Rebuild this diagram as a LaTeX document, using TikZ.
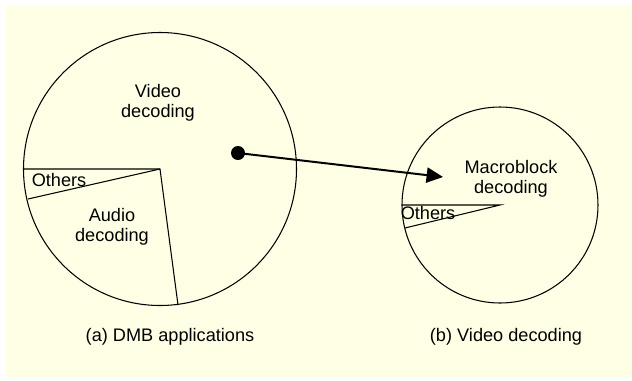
\documentclass[tikz,border=0pt]{standalone}
\usepackage{fontspec}
\setmainfont{Liberation Sans}
\usetikzlibrary{arrows.meta}
\definecolor{bgyellow}{RGB}{255,255,229}
\tikzset{
  pieline/.style={line width=0.9pt, black},
  label/.style={align=center, inner sep=0pt, font=\fontsize{15.5}{17}\selectfont},
  dotmark/.style={circle, fill=black, inner sep=0pt, minimum size=0.42cm},
  flowarrow/.style={line width=1.7pt, -{Triangle[length=14pt,width=13pt]}}
}
\begin{document}
\begin{tikzpicture}[x=0.03cm, y=-0.03cm]
        % Sfondo
        \useasboundingbox (0,0) rectangle (632,380);
        \fill[bgyellow] (6,5) rectangle (632,377);

        % Torta grande (a)
        \coordinate (ca) at (160,169);
        \draw[pieline] (ca) circle (136.5);
        \draw[pieline] (23.5,169) -- (ca) -- (178,305);
        \draw[pieline] (ca) -- (28,199);
        \node[label] (video) at (158,103) {Video\\decoding};
        \node[label] (othersa) at (59,180) {Others};
        \node[label] (audio) at (112,227) {Audio\\decoding};
        \node[label] (capa) at (170,337) {(a) DMB applications};

        % Torta piccola (b)
        \coordinate (cb) at (500,205);
        \draw[pieline] (cb) circle (98);
        \draw[pieline] (402,205) -- (cb) -- (405,228);
        \node[label] (macro) at (511,179) {Macroblock\\decoding};
        \node[label] (othersb) at (428,213) {Others};
        \node[label] (capb) at (506,337) {(b) Video decoding};

        % Freccia
        \node[dotmark] (src) at (238,153) {};
        \coordinate (dst) at (443,177);
        \draw[flowarrow] (src.center) -- (dst);
    \end{tikzpicture}
\end{document}
